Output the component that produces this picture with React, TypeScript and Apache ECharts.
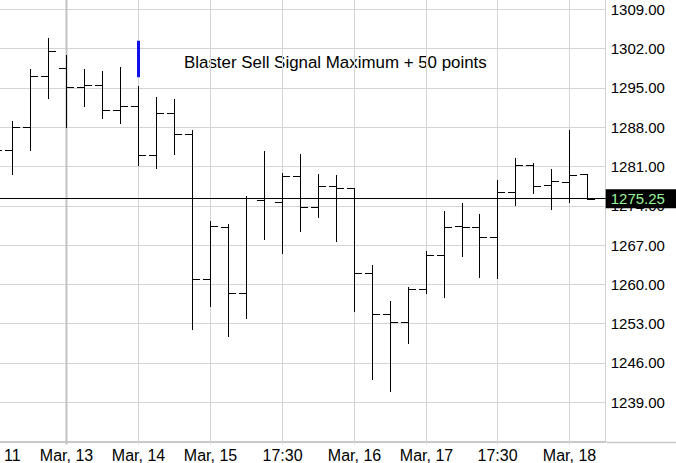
import React, { useEffect, useRef } from "react";
import * as echarts from "echarts";

// bar slot index (0 = partly hidden bar at the left edge)
const barIndex = [0, 1, 2, 3, 4, 5, 6, 7, 8, 9, 10, 11, 12, 13, 14, 15, 16, 17, 18, 19, 20, 21, 22, 23, 24, 25, 26, 27, 28, 29, 30, 31, 32, 33];
const opens = [1283.9, 1283.9, 1288.1, 1297.2, 1298.5, 1295.1, 1295.6, 1291.05, 1291.8, 1283.0, 1290.5, 1286.7, 1260.9, 1270.3, 1258.4, 1275.0, 1274.7, 1279.3, 1273.7, 1277.45, 1277.1, 1262.1, 1254.7, 1253.3, 1259.1, 1265.3, 1270.4, 1270.3, 1268.4, 1276.4, 1281.25, 1277.7, 1278.2, 1279.6];
const highs = [1283.9, 1289.1, 1298.4, 1303.8, 1300.9, 1298.3, 1298.0, 1298.8, 1295.3, 1293.4, 1293.1, 1287.5, 1271.3, 1270.7, 1275.7, 1283.7, 1279.9, 1283.3, 1279.6, 1279.5, 1277.2, 1263.5, 1257.0, 1259.55, 1265.9, 1273.05, 1274.5, 1272.5, 1278.6, 1282.55, 1281.6, 1280.5, 1287.5, 1279.7];
const lows = [1283.9, 1279.6, 1283.9, 1293.2, 1288.1, 1291.8, 1289.6, 1288.8, 1281.25, 1280.8, 1283.2, 1252.1, 1256.1, 1250.8, 1254.0, 1268.1, 1265.6, 1269.5, 1272.0, 1267.75, 1255.3, 1243.05, 1241.0, 1249.6, 1258.4, 1257.7, 1265.1, 1261.3, 1261.2, 1274.2, 1276.3, 1273.35, 1274.7, 1275.25];
const closes = [1283.9, 1288.1, 1297.2, 1301.6, 1295.1, 1295.6, 1291.05, 1291.8, 1283.0, 1290.5, 1286.7, 1260.9, 1270.4, 1258.4, 1275.3, 1275.4, 1279.3, 1273.7, 1277.45, 1277.1, 1262.1, 1254.7, 1253.3, 1259.1, 1265.3, 1270.3, 1270.3, 1268.4, 1276.4, 1281.25, 1277.5, 1278.35, 1279.5, 1275.25];

const lastPrice = 1275.25;

// Blaster sell signal marker: [bar index, low, high]
const signalIndex = [8];
const signalLow = [1296.9];
const signalHigh = [1303.4];
const signalText = "Blaster Sell Signal Maximum + 50 points";

// x tick labels (at bar slot positions); 1 = stronger grid line
const xTickPos = [0, 4, 8, 12, 16, 20, 24, 28, 32];
const xTickLabels = ["Mar, 11", "Mar, 13", "Mar, 14", "Mar, 15", "17:30", "Mar, 16", "Mar, 17", "17:30", "Mar, 18"];
const xTickStrong = [0, 1, 0, 0, 0, 0, 0, 0, 0];

const FONT = "'Liberation Sans', Arial, Helvetica, sans-serif";

export default function App() {
  const ref = useRef<HTMLDivElement>(null);
  useEffect(() => {
    if (!ref.current) return;
    const chart = echarts.init(ref.current, undefined, { renderer: "svg" });
    const ohlc = barIndex.map((j, i) => [j, opens[i], highs[i], lows[i], closes[i]]);
    const sig = signalIndex.map((j, i) => [j, signalLow[i], signalHigh[i]]);
    const ticks = xTickPos.map((p, i) => [p, xTickStrong[i]]);

    chart.setOption({
      animation: false,
      backgroundColor: "#fff",
      grid: { left: 0, right: 70.3, top: 0, bottom: 21.5, containLabel: false },
      xAxis: {
        type: "value",
        min: 0.309,
        max: 34.027,
        axisLine: { show: true, lineStyle: { color: "#c8c8c8", width: 2 } },
        axisTick: { show: false },
        splitLine: { show: false },
        axisLabel: { show: false },
      },
      yAxis: {
        type: "value",
        position: "right",
        min: 1232,
        max: 1310.657,
        interval: 7,
        axisLine: { show: true, lineStyle: { color: "#d0d0d0", width: 1 } },
        axisTick: { show: false },
        splitLine: { show: true, showMaxLine: false, lineStyle: { color: "#d4d4d4", width: 1 } },
        axisLabel: {
          color: "#000",
          fontSize: 15,
          fontFamily: FONT,
          margin: 5,
          formatter: (v: number) => (Math.abs(v % 7) < 1e-6 && v > 1232.5 && v < 1310 ? v.toFixed(2) : ""),
        },
      },
      series: [
        {
          type: "custom",
          z: 1,
          silent: true,
          clip: false,
          data: ticks,
          encode: { x: 0 },
          renderItem: (params: any, api: any) => {
            const p = api.coord([api.value(0), 1232]);
            const cs = params.coordSys;
            const x = Math.round(p[0]) + 0.5;
            const strong = api.value(1) === 1;
            const bottom = cs.y + cs.height;
            return {
              type: "group",
              children: [
                {
                  type: "line",
                  shape: { x1: x, y1: cs.y, x2: x, y2: bottom + 3 },
                  style: { stroke: strong ? "#c2c2c2" : "#d4d4d4", lineWidth: strong ? 2 : 1 },
                },
                {
                  type: "text",
                  x: x,
                  y: bottom + 6,
                  style: {
                    text: xTickLabels[params.dataIndex],
                    fill: "#000",
                    font: `16px ${FONT}`,
                    align: "center",
                    verticalAlign: "top",
                  },
                },
              ],
            };
          },
        },
        {
          type: "custom",
          z: 3,
          silent: true,
          data: ohlc,
          encode: { x: 0, y: [1, 2, 3, 4] },
          renderItem: (params: any, api: any) => {
            const j = api.value(0);
            const o = api.coord([j, api.value(1)]);
            const h = api.coord([j, api.value(2)]);
            const l = api.coord([j, api.value(3)]);
            const c = api.coord([j, api.value(4)]);
            const step = api.size([1, 0])[0];
            const t = step * 0.42;
            const x = Math.round(o[0]) + 0.5;
            const st = { stroke: "#000", lineWidth: 1 };
            return {
              type: "group",
              children: [
                { type: "line", shape: { x1: x, y1: Math.round(h[1]), x2: x, y2: Math.round(l[1]) + 1 }, style: st },
                { type: "line", shape: { x1: x - t, y1: Math.round(o[1]) + 0.5, x2: x, y2: Math.round(o[1]) + 0.5 }, style: st },
                { type: "line", shape: { x1: x, y1: Math.round(c[1]) + 0.5, x2: x + t, y2: Math.round(c[1]) + 0.5 }, style: st },
              ],
            };
          },
          markLine: {
            silent: true,
            symbol: ["none", "none"],
            animation: false,
            data: [
              {
                yAxis: lastPrice,
                lineStyle: { color: "#000", width: 1, type: "solid" },
                label: {
                  show: true,
                  position: "end",
                  distance: 0,
                  formatter: lastPrice.toFixed(2),
                  color: "#98f598",
                  backgroundColor: "#000",
                  fontSize: 15,
                  fontFamily: FONT,
                  padding: [2, 20, 2, 5],
                },
              },
            ],
          },
        },
        {
          type: "custom",
          z: 4,
          silent: true,
          data: sig,
          encode: { x: 0, y: [1, 2] },
          renderItem: (params: any, api: any) => {
            const a = api.coord([api.value(0), api.value(1)]);
            const b = api.coord([api.value(0), api.value(2)]);
            const x = Math.round(a[0]) + 0.5;
            return {
              type: "line",
              shape: { x1: x, y1: b[1], x2: x, y2: a[1] },
              style: { stroke: "#1010e8", lineWidth: 3 },
            };
          },
        },
      ],
      graphic: [
        {
          type: "text",
          x: 184,
          y: 62.5,
          style: {
            text: signalText,
            font: `16.9px ${FONT}`,
            fill: "#000",
            verticalAlign: "middle",
            align: "left",
          },
        },
        {
          type: "line",
          shape: { x1: 607, y1: 442.5, x2: 676, y2: 442.5 },
          style: { stroke: "#c8c8c8", lineWidth: 1.5 },
        },
      ],
    });
    return () => chart.dispose();
  }, []);
  return <div ref={ref} style={{ position: "fixed", left: 0, top: 0, width: 676, height: 463, background: "#fff" }} />;
}
